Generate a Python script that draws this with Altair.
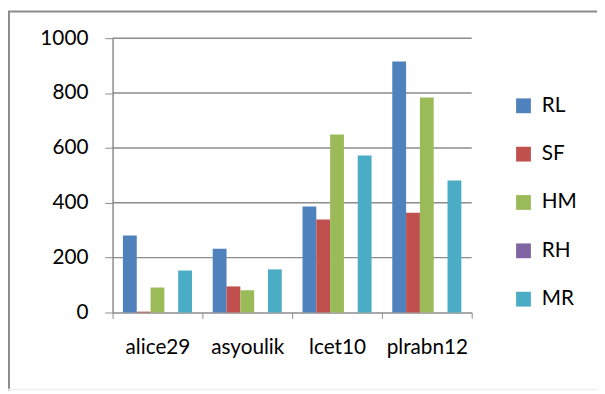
import altair as alt
import pandas as pd

files = ["alice29", "asyoulik", "lcet10", "plrabn12"]
series = ["RL", "SF", "HM", "RH", "MR"]
RL = [281, 232, 386, 915]
SF = [3, 95, 339, 364]
HM = [91, 81, 649, 784]
RH = [0, 0, 0, 0]
MR = [153, 157, 572, 481]
colors = ["#4F81BD", "#C0504D", "#9BBB59", "#8064A2", "#4BACC6"]
y_ticks = [0, 200, 400, 600, 800, 1000]

vals = {"RL": RL, "SF": SF, "HM": HM, "RH": RH, "MR": MR}
rows = []
for s in series:
    for f, v in zip(files, vals[s]):
        rows.append({"file": f, "series": s, "value": v})
df = pd.DataFrame(rows)
grid_df = pd.DataFrame({"value": y_ticks[1:]})

W, H = 364, 278
FONT = "Lato"
FS = 21
GRAY = "#8c8c8c"

yscale = alt.Scale(domain=[0, 1000])
yaxis = alt.Axis(values=y_ticks, format="d", grid=False,
                 domainColor=GRAY, tickColor=GRAY,
                 tickSize=8, labelPadding=17, labelFontSize=FS,
                 labelFont=FONT, labelColor="#000000", domainWidth=1.5)

grid = alt.Chart(grid_df).mark_rule(color=GRAY, strokeWidth=1.5).encode(
    y=alt.Y("value:Q", title=None, scale=yscale, axis=yaxis))

bars = alt.Chart(df).mark_bar().encode(
    x=alt.X("file:N", sort=files, title=None,
            scale=alt.Scale(paddingInner=0, paddingOuter=0),
            axis=alt.Axis(labelAngle=0, tickBand="extent", grid=False,
                          domainColor=GRAY, tickColor=GRAY,
                          tickSize=6, labelPadding=19, labelFontSize=FS,
                          labelFont=FONT, labelColor="#000000", domainWidth=1.5)),
    xOffset=alt.XOffset("series:N", sort=series,
                        scale=alt.Scale(paddingInner=0, paddingOuter=0.75)),
    y=alt.Y("value:Q", title=None, scale=yscale, axis=yaxis),
    color=alt.Color("series:N", sort=series,
                    scale=alt.Scale(domain=series, range=colors),
                    legend=alt.Legend(title=None, orient="none", legendX=406,
                                      legendY=58, symbolType="square",
                                      symbolSize=225, symbolStrokeWidth=0,
                                      labelFontSize=FS, labelFont=FONT,
                                      labelColor="#000000", rowPadding=27,
                                      labelOffset=8)),
)

frame_left = alt.Chart(pd.DataFrame({"a": [0]})).mark_rule(
    color=GRAY, strokeWidth=2).encode(
    x=alt.value(-105), y=alt.value(-27), y2=alt.value(357))
frame_top = alt.Chart(pd.DataFrame({"a": [0]})).mark_rule(
    color=GRAY, strokeWidth=2).encode(
    x=alt.value(-106), x2=alt.value(491), y=alt.value(-27))
frame_bottom = alt.Chart(pd.DataFrame({"a": [0]})).mark_rule(
    color="#eeeeee", strokeWidth=1.5).encode(
    x=alt.value(-106), x2=alt.value(491), y=alt.value(356))

chart = alt.layer(grid, bars, frame_left, frame_top, frame_bottom).properties(
    width=W, height=H,
    background="white",
    autosize=alt.AutoSizeParams(type="none"),
    padding={"left": 106, "top": 28, "right": 127, "bottom": 80},
).configure_view(strokeWidth=0)

chart.save("out.html", embed_options={"renderer": "svg", "actions": False})
